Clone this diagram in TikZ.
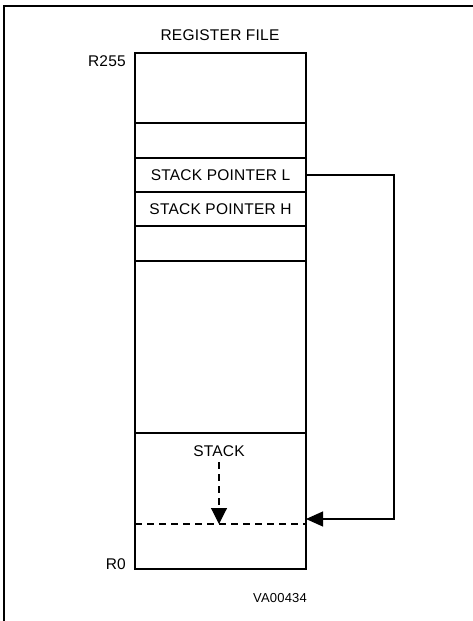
\documentclass[tikz,border=0pt]{standalone}
\usepackage{fontspec}
\setmainfont{Liberation Sans}[LetterSpace=1.5]
\usetikzlibrary{arrows.meta}
\begin{document}
\begin{tikzpicture}[x=1pt,y=-1pt,
  cell/.style={draw,line width=1.1pt,minimum width=171pt,inner sep=0pt,outer sep=0pt,anchor=north west},
  lbl/.style={font=\fontsize{15.5}{18}\selectfont,inner sep=0pt},
  small/.style={font=\fontsize{13}{15}\selectfont,inner sep=0pt},
  ptr/.style={line width=1.1pt,-{Triangle[length=17pt,width=15pt]}},
  dsh/.style={line width=1.1pt,dash pattern=on 7pt off 5pt}
]
\useasboundingbox (0,0) rectangle (473,621);
% frame
\draw[line width=2pt] (4,621) -- (4,6) -- (473,6);
% title
\node[lbl] (title) at (220,35) {REGISTER FILE};
% cells
\node[cell,minimum height=70pt] (c1) at (135,53) {};
\node[cell,minimum height=35pt] (c2) at (135,123) {};
\node[cell,minimum height=34pt] (spl) at (135,158) {};
\node[cell,minimum height=34pt] (sph) at (135,192) {};
\node[cell,minimum height=35pt] (c5) at (135,226) {};
\node[cell,minimum height=172pt] (c6) at (135,261) {};
\node[cell,minimum height=136pt] (stk) at (135,433) {};
\node[lbl] at (spl.center) {STACK POINTER L};
\node[lbl] at (sph.center) {STACK POINTER H};
% register labels
\node[lbl,anchor=east] (r255) at (126,61) {R255};
\node[lbl,anchor=east] (r0) at (126,564) {R0};
% stack
\node[lbl] (stklbl) at (219,451) {STACK};
\coordinate (dl) at (135,524);
\coordinate (dr) at (306,524);
\draw[dsh] (dl) -- (dr);
\coordinate (stktip) at (219,524);
\draw[dsh,-{Triangle[length=16pt,width=16pt]}] (219,462) -- (stktip);
% pointer arrow
\coordinate (turn) at (394,519);
\coordinate (ptrtip) at (306,519);
\draw[ptr] (spl.east) -| (turn) -- (ptrtip);
% figure id
\node[small] (fid) at (280,598) {VA00434};
\end{tikzpicture}
\end{document}
